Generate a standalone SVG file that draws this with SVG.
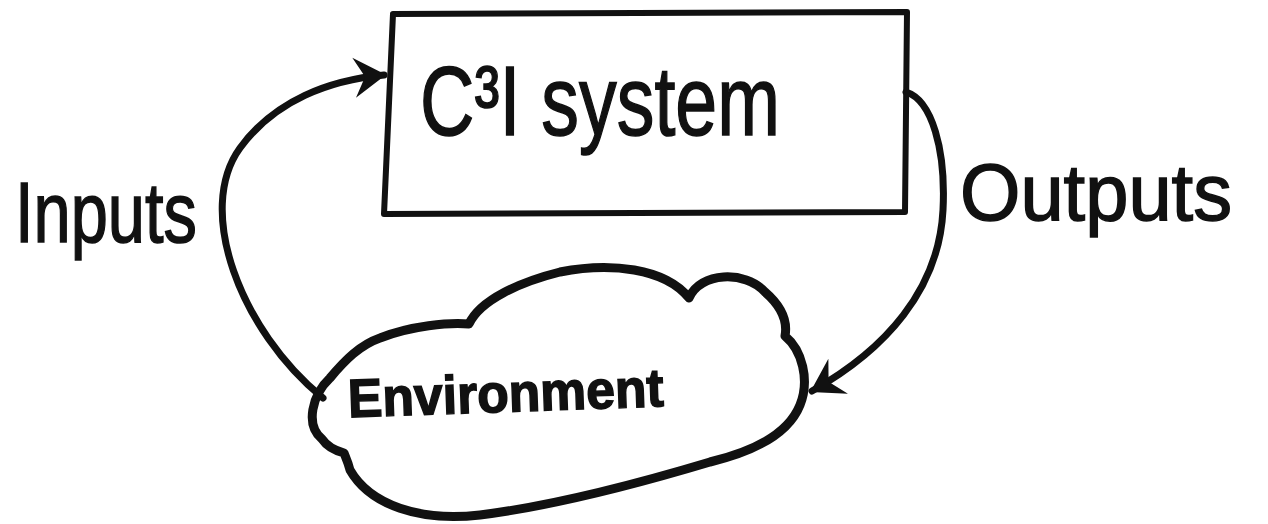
<svg xmlns="http://www.w3.org/2000/svg" width="1268" height="524" viewBox="0 0 1268 524">
<style>
.ink{fill:none;stroke:#111;stroke-linecap:round;stroke-linejoin:round}
.lbl{font-family:"Liberation Sans","DejaVu Sans",sans-serif;fill:#111;stroke:#111;stroke-width:1.5}
</style>
<defs>
<marker id="ah" markerUnits="userSpaceOnUse" markerWidth="36" markerHeight="46" viewBox="0 0 36 46" refX="32" refY="23" orient="auto">
<path d="M34,23 L2,3 L13,23 L2,43 Z" fill="#111"/>
</marker>
</defs>
<rect width="1268" height="524" fill="#fff"/>
<g id="connectors">
<path class="ink" stroke-width="7" d="M323,398 C240,330 195,210 240,148 C275,100 330,80 384,75" marker-end="url(#ah)"/>
<path class="ink" stroke-width="7" d="M906,92 C932,100 946,150 943,210 C939,290 885,350 812,391" marker-end="url(#ah)"/>
</g>
<g id="c3i">
<path class="ink" stroke-width="6" d="M393,14 L907,12 L905,212 L384,214 Z"/>
<text class="lbl" x="420" y="135" font-size="98" textLength="360" lengthAdjust="spacingAndGlyphs">C³I system</text>
</g>
<g id="environment">
<path class="ink" stroke-width="9" d="M322,439 C305,425 312,395 330,378 C345,360 360,345 380,338 C410,326 450,322 469,324 C480,300 520,282 560,272 C610,262 665,268 689,298 C700,272 745,270 765,292 C780,305 788,320 785,336 C802,350 810,380 800,405 C790,430 760,450 710,462 C650,480 560,505 480,515 C420,522 370,505 350,470 C348,462 346,458 344,453 C333,450 326,445 322,439 Z"/>
<text class="lbl" x="348" y="412" font-size="54" font-weight="bold" textLength="316" lengthAdjust="spacingAndGlyphs" transform="rotate(-2 500 400)">Environment</text>
</g>
<g id="inputs">
<text class="lbl" x="15" y="242" font-size="86" textLength="182" lengthAdjust="spacingAndGlyphs">Inputs</text>
</g>
<g id="outputs">
<text class="lbl" x="960" y="220" font-size="80" textLength="272" lengthAdjust="spacingAndGlyphs">Outputs</text>
</g>
</svg>
